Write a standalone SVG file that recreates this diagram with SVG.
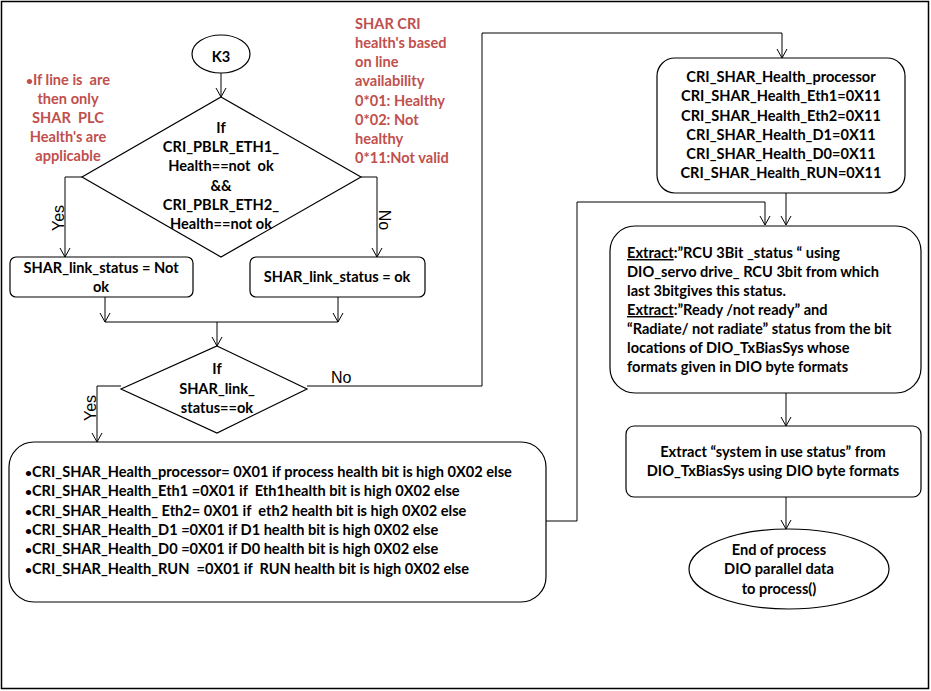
<svg xmlns="http://www.w3.org/2000/svg" width="931" height="691" viewBox="0 0 931 691">
<defs>
<marker id="arr" markerUnits="userSpaceOnUse" markerWidth="12" markerHeight="12" refX="0" refY="0" viewBox="-10 -6 12 12" orient="auto" overflow="visible">
<path d="M-9,-5 L0,0 L-9,5" fill="none" stroke="#000" stroke-width="1"/>
</marker>
</defs>
<style>
.shape{fill:#fff;stroke:#000;stroke-width:1.2}
.t{font-family:Lato,"Liberation Sans",sans-serif;font-weight:bold;font-size:14.6px;fill:#000;white-space:pre}
.c{text-anchor:middle}
.red{fill:#C0504D}
.b{font-size:12px}
.lbl{font-family:"Liberation Sans",Arial,sans-serif;font-size:16px;fill:#000}
.con{fill:none;stroke:#000;stroke-width:1}
</style>
<rect x="1.5" y="1.5" width="927" height="687" fill="#fff" stroke="#000" stroke-width="1.5"/>

<g id="connectors">
<path class="con" d="M221,73 L221,97" marker-end="url(#arr)"/>
<path class="con" d="M82,177 L65,177 L65,257" marker-end="url(#arr)"/>
<path class="con" d="M361,177 L377,177 L377,257" marker-end="url(#arr)"/>
<path class="con" d="M105,297 L105,322" marker-end="url(#arr)"/>
<path class="con" d="M338,297 L338,322" marker-end="url(#arr)"/>
<path class="con" d="M105,322 L338,322"/>
<path class="con" d="M217,322 L217,346" marker-end="url(#arr)"/>
<path class="con" d="M121,386 L97,386 L97,442" marker-end="url(#arr)"/>
<path class="con" d="M307,386 L482,386 L482,33 L782,33 L782,58" marker-end="url(#arr)"/>
<path class="con" d="M786,193 L786,225" marker-end="url(#arr)"/>
<path class="con" d="M546,521 L577,521 L577,202 L765,202 L765,225" marker-end="url(#arr)"/>
<path class="con" d="M786,393 L786,426" marker-end="url(#arr)"/>
<path class="con" d="M786,497 L786,529" marker-end="url(#arr)"/>
<text class="lbl" transform="translate(64,218) rotate(-90)" text-anchor="middle">Yes</text>
<text class="lbl" transform="translate(379,220) rotate(90)" text-anchor="middle">No</text>
<text class="lbl" x="331" y="383">No</text>
<text class="lbl" transform="translate(96,408) rotate(-90)" text-anchor="middle">Yes</text>
</g>

<g id="note-left">
<text class="t c red" x="68" y="85"><tspan class="b">•</tspan>If line is  are</text>
<text class="t c red" x="68" y="104">then only</text>
<text class="t c red" x="68" y="123">SHAR  PLC</text>
<text class="t c red" x="68" y="142">Health's are</text>
<text class="t c red" x="68" y="161">applicable</text>
</g>

<g id="note-right">
<text class="t red" x="355" y="29">SHAR CRI</text>
<text class="t red" x="355" y="48">health's based</text>
<text class="t red" x="355" y="67">on line</text>
<text class="t red" x="355" y="86">availability</text>
<text class="t red" x="355" y="106">0*01: Healthy</text>
<text class="t red" x="355" y="125">0*02: Not</text>
<text class="t red" x="355" y="144">healthy</text>
<text class="t red" x="355" y="163">0*11:Not valid</text>
</g>

<g id="k3">
<ellipse class="shape" cx="221" cy="54" rx="29" ry="19"/>
<text class="t c" x="221" y="62">K3</text>
</g>

<g id="decision1">
<polygon class="shape" points="221,97 361,177 221,257 82,177"/>
<text class="t c" x="221" y="133">If</text>
<text class="t c" x="221" y="152">CRI_PBLR_ETH1_</text>
<text class="t c" x="221" y="171">Health==not  ok</text>
<text class="t c" x="221" y="191">&amp;&amp;</text>
<text class="t c" x="221" y="210">CRI_PBLR_ETH2_</text>
<text class="t c" x="221" y="229">Health==not ok</text>
</g>

<g id="link-notok">
<rect class="shape" x="10" y="257" width="183" height="40" rx="6"/>
<text class="t c" x="101" y="273">SHAR_link_status = Not</text>
<text class="t c" x="101" y="292">ok</text>
</g>

<g id="link-ok">
<rect class="shape" x="250" y="257" width="175" height="40" rx="6"/>
<text class="t c" x="337" y="282">SHAR_link_status = ok</text>
</g>

<g id="decision2">
<polygon class="shape" points="217,346 307,389 217,433 121,389"/>
<text class="t c" x="217" y="374">If</text>
<text class="t c" x="217" y="394">SHAR_link_</text>
<text class="t c" x="217" y="413">status==ok</text>
</g>

<g id="health-set">
<rect class="shape" x="9" y="442" width="537" height="160" rx="25"/>
<text class="t" x="25" y="477"><tspan class="b">•</tspan>CRI_SHAR_Health_processor= 0X01 if process health bit is high 0X02 else</text>
<text class="t" x="25" y="496"><tspan class="b">•</tspan>CRI_SHAR_Health_Eth1 =0X01 if  Eth1health bit is high 0X02 else</text>
<text class="t" x="25" y="516"><tspan class="b">•</tspan>CRI_SHAR_Health_ Eth2= 0X01 if  eth2 health bit is high 0X02 else</text>
<text class="t" x="25" y="535"><tspan class="b">•</tspan>CRI_SHAR_Health_D1 =0X01 if D1 health bit is high 0X02 else</text>
<text class="t" x="25" y="554"><tspan class="b">•</tspan>CRI_SHAR_Health_D0 =0X01 if D0 health bit is high 0X02 else</text>
<text class="t" x="25" y="574"><tspan class="b">•</tspan>CRI_SHAR_Health_RUN  =0X01 if  RUN health bit is high 0X02 else</text>
</g>

<g id="health-invalid">
<rect class="shape" x="657" y="58" width="248" height="135" rx="18"/>
<text class="t c" x="781" y="82">CRI_SHAR_Health_processor</text>
<text class="t c" x="781" y="101">CRI_SHAR_Health_Eth1=0X11</text>
<text class="t c" x="781" y="121">CRI_SHAR_Health_Eth2=0X11</text>
<text class="t c" x="781" y="140">CRI_SHAR_Health_D1=0X11</text>
<text class="t c" x="781" y="159">CRI_SHAR_Health_D0=0X11</text>
<text class="t c" x="781" y="178">CRI_SHAR_Health_RUN=0X11</text>
</g>

<g id="extract-rcu">
<rect class="shape" x="610" y="226" width="311" height="167" rx="25"/>
<text class="t" x="627" y="258"><tspan text-decoration="underline">Extract</tspan>:”RCU 3Bit _status “ using</text>
<text class="t" x="627" y="277">DIO_servo drive_ RCU 3bit from which</text>
<text class="t" x="627" y="296">last 3bitgives this status.</text>
<text class="t" x="627" y="315"><tspan text-decoration="underline">Extract</tspan>:”Ready /not ready” and</text>
<text class="t" x="627" y="334">“Radiate/ not radiate” status from the bit</text>
<text class="t" x="627" y="353">locations of DIO_TxBiasSys whose</text>
<text class="t" x="627" y="372">formats given in DIO byte formats</text>
</g>

<g id="extract-system">
<rect class="shape" x="626" y="426" width="295" height="71" rx="8"/>
<text class="t c" x="773" y="457">Extract “system in use status” from</text>
<text class="t c" x="773" y="476">DIO_TxBiasSys using DIO byte formats</text>
</g>

<g id="end">
<ellipse class="shape" cx="789" cy="569" rx="100" ry="40"/>
<text class="t c" x="779" y="555">End of process</text>
<text class="t c" x="779" y="574">DIO parallel data</text>
<text class="t c" x="779" y="594">to process()</text>
</g>
</svg>
